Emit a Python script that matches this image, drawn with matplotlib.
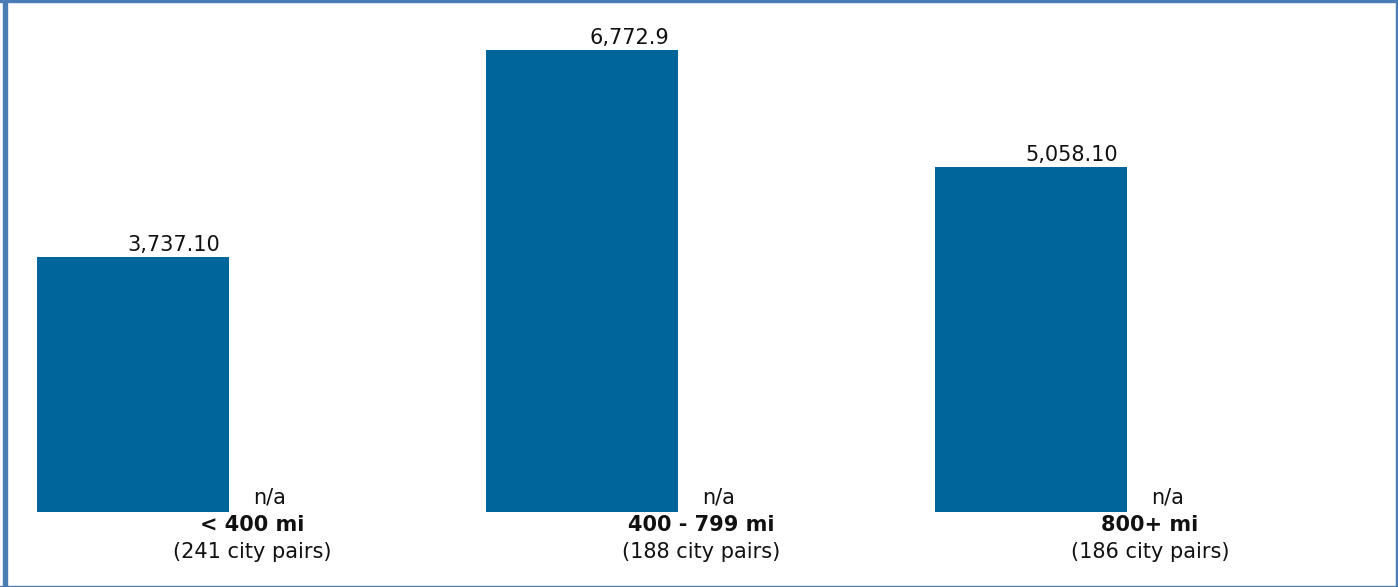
import matplotlib
matplotlib.use("Agg")
import matplotlib.pyplot as plt
from matplotlib.patches import Rectangle

categories = ["< 400 mi", "400 - 799 mi", "800+ mi"]
subtitles = ["(241 city pairs)", "(188 city pairs)", "(186 city pairs)"]
values = [3737.10, 6772.9, 5058.10]
value_labels = ["3,737.10", "6,772.9", "5,058.10"]
second_labels = ["n/a", "n/a", "n/a"]

plt.rcParams['font.family'] = ['DejaVu Sans']
plt.rcParams['font.sans-serif'] = ['DejaVu Sans']

W, H = 1398, 587
fig = plt.figure(figsize=(W / 100, H / 100), dpi=100)

G = 449
ax_left, ax_right = 37, 37 + 3 * G
ax_bottom, ax_top = 512, 12
ax = fig.add_axes([ax_left / W, (H - ax_bottom) / H, (ax_right - ax_left) / W, (ax_bottom - ax_top) / H])
ax.set_xlim(0, 3)
ymax = 500 / 0.06815
ax.set_ylim(0, ymax)
ax.axis('off')

bw = 192 / G
color = "#00659a"
xs = list(range(len(values)))
ax.bar(xs, values, width=bw, align='edge', color=color, linewidth=0)

fam = 'DejaVu Sans'
fs = 15
for x, v, lab in zip(xs, values, value_labels):
    ax.annotate(lab, (x + bw, v), xytext=(-6.5, 1.5), textcoords='offset points',
                ha='right', va='bottom', fontsize=fs, family=fam, color='#111111')

for x, lab in zip(xs, second_labels):
    ax.annotate(lab, (x + 233 / G, 0), xytext=(0, 3.5), textcoords='offset points',
                ha='center', va='bottom', fontsize=fs, family=fam, color='#111111')

for x, cat, sub in zip(xs, categories, subtitles):
    ax.annotate(cat, (x + 215 / G, 0), xytext=(0, -9.5), textcoords='offset points',
                ha='center', va='center', fontsize=fs, fontweight='bold', family=fam, color='#111111')
    ax.annotate(sub, (x + 215 / G, 0), xytext=(0, -28.5), textcoords='offset points',
                ha='center', va='center', fontsize=fs, family=fam, color='#111111')

bc = "#4a7db5"
fig.patches.append(Rectangle((3 / W, 0), 4 / W, 1, transform=fig.transFigure, color=bc, zorder=5))
fig.patches.append(Rectangle((0, 1 - 2 / H), 1, 2 / H, transform=fig.transFigure, color=bc, zorder=5))
fig.patches.append(Rectangle((1396 / W, 0), 1.5 / W, 1, transform=fig.transFigure, color=bc, zorder=5))
fig.patches.append(Rectangle((0, 0), 1, 1.5 / H, transform=fig.transFigure, color=bc, zorder=5))

fig.savefig("out.png", dpi=100)
